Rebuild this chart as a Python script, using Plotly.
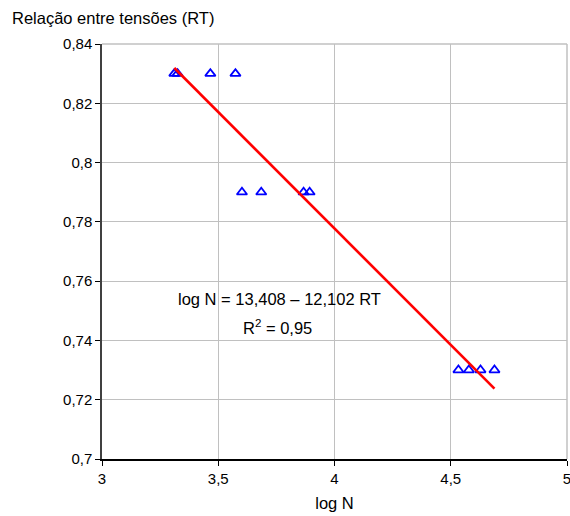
import numpy as np
import plotly.graph_objects as go

# Fatigue data: log of number of cycles vs stress ratio (RT)
log_n = [3.311, 3.325, 3.466, 3.574,
         3.602, 3.685, 3.867, 3.893,
         4.533, 4.578, 4.628, 4.688]
rt = [0.83, 0.83, 0.83, 0.83,
      0.79, 0.79, 0.79, 0.79,
      0.73, 0.73, 0.73, 0.73]

x_ticks = [3, 3.5, 4, 4.5, 5]
x_tick_text = ["3", "3,5", "4", "4,5", "5"]
y_ticks = [0.70, 0.72, 0.74, 0.76, 0.78, 0.80, 0.82, 0.84]
y_tick_text = ["0,7", "0,72", "0,74", "0,76", "0,78", "0,8", "0,82", "0,84"]

equation_text = "log N = 13,408 – 12,102 RT"
r2_text = "R<sup>2</sup> = 0,95"

# Linear trendline over the data range
slope, intercept = np.polyfit(log_n, rt, 1)
trend_x = [min(log_n), max(log_n)]
trend_y = [slope * v + intercept for v in trend_x]

FONT = "Liberation Sans, Arial, sans-serif"
GRID = "#c0c0c0"
M_L, M_R, M_T, M_B = 102, 3, 44, 57
PLOT_W = 570 - M_L - M_R
PLOT_H = 516 - M_T - M_B

fig = go.Figure()
fig.add_trace(go.Scatter(
    x=log_n, y=rt, mode="markers",
    marker=dict(symbol="triangle-up-open", size=9, color="#0000FF",
                line=dict(width=1.8, color="#0000FF")),
    showlegend=False,
))
fig.add_trace(go.Scatter(
    x=trend_x, y=trend_y, mode="lines",
    line=dict(color="#FF0000", width=2.6),
    showlegend=False,
))

fig.update_layout(
    width=570, height=516,
    margin=dict(l=M_L, r=M_R, t=M_T, b=M_B),
    paper_bgcolor="white", plot_bgcolor="white",
    font=dict(family=FONT, size=15, color="black"),
    xaxis=dict(
        range=[3, 5], tickvals=x_ticks, ticktext=x_tick_text,
        showgrid=True, gridcolor=GRID, gridwidth=1,
        showline=True, linecolor="black", linewidth=1.5,
        ticks="outside", ticklen=5, tickcolor="black",
        ticklabeloverflow="allow", automargin=False,
        zeroline=False,
        tickfont=dict(size=15),
        title=dict(text="log N", font=dict(size=16.5), standoff=12),
    ),
    yaxis=dict(
        range=[0.70, 0.84], tickvals=y_ticks, ticktext=y_tick_text,
        showgrid=True, gridcolor=GRID, gridwidth=1,
        showline=True, linecolor="#404040", linewidth=1.5,
        ticks="outside", ticklen=5, tickcolor="black",
        automargin=False,
        zeroline=False,
        tickfont=dict(size=15),
    ),
    shapes=[
        # light frame on the top and right edges of the plot area
        dict(type="line", xref="paper", yref="paper", x0=0, x1=1, y0=1, y1=1,
             line=dict(color=GRID, width=1.5)),
        dict(type="line", xref="paper", yref="paper", x0=1, x1=1, y0=0, y1=1,
             line=dict(color=GRID, width=1.5)),
    ],
    annotations=[
        dict(text="Relação entre tensões (RT)", xref="paper", yref="paper",
             x=(10 - M_L) / PLOT_W, y=1 + (M_T - 18) / PLOT_H,
             xanchor="left", yanchor="middle",
             showarrow=False, font=dict(size=16.5)),
        dict(text=equation_text, xref="x", yref="y",
             x=3.763, y=0.7541, xanchor="center", yanchor="middle",
             showarrow=False, font=dict(size=16.5)),
        dict(text=r2_text, xref="x", yref="y",
             x=3.754, y=0.7447, xanchor="center", yanchor="middle",
             showarrow=False, font=dict(size=16.5)),
    ],
)

fig.write_html("out.html")
